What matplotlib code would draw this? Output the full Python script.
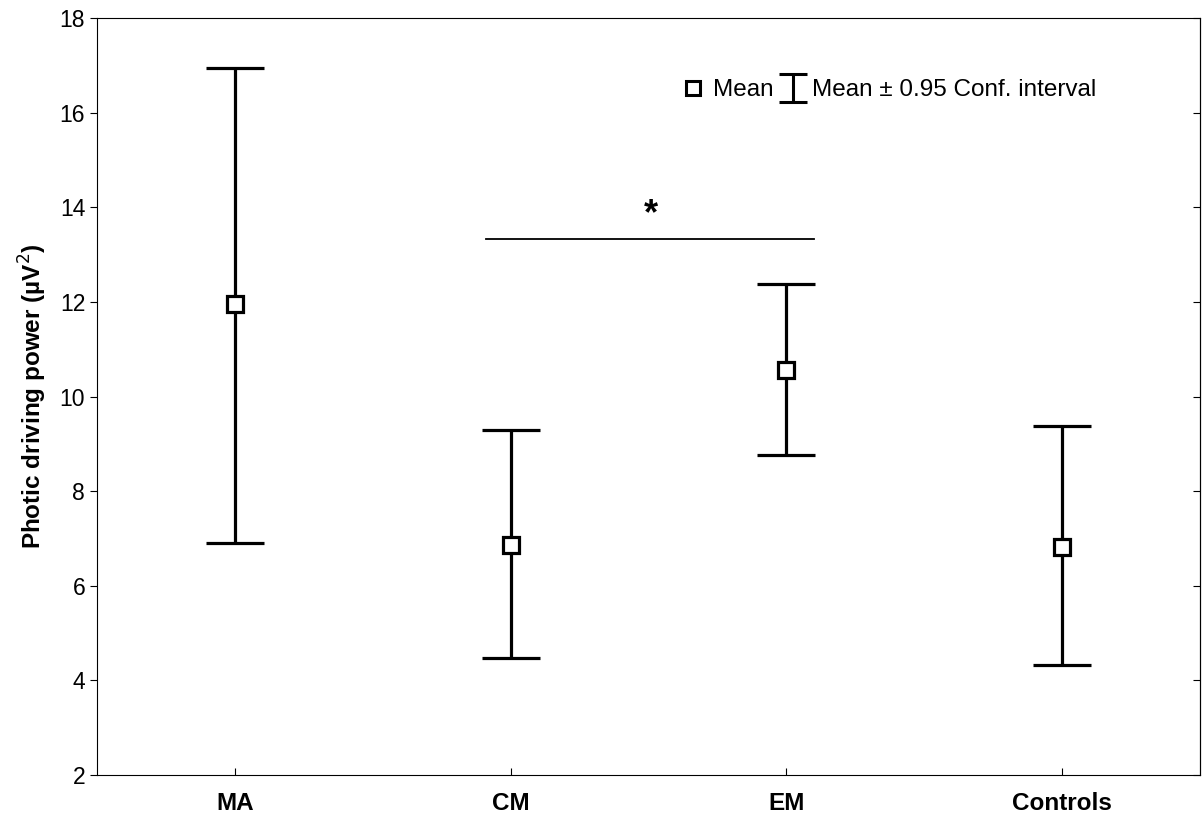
import matplotlib
matplotlib.use("Agg")
import matplotlib.pyplot as plt
from matplotlib.lines import Line2D
from matplotlib.path import Path

plt.rcParams['font.family'] = ['Liberation Sans', 'DejaVu Sans']

# data
groups = ["MA", "CM", "EM", "Controls"]
means = [11.95, 6.86, 10.56, 6.82]
ci_low = [6.90, 4.47, 8.76, 4.32]
ci_high = [16.94, 9.29, 12.38, 9.37]

x = list(range(len(groups)))
err_lo = [m - l for m, l in zip(means, ci_low)]
err_hi = [h - m for m, h in zip(means, ci_high)]

fig = plt.figure(figsize=(12.03, 8.24), dpi=100)
ax = fig.add_axes([0.0806, 0.0595, 0.917, 0.9185])

ax.errorbar(x, means, yerr=[err_lo, err_hi], fmt='s', color='black',
            mfc='white', mec='black', mew=2.3, markersize=11,
            elinewidth=2.3, capsize=21, capthick=2.3, zorder=3)

# significance bar between CM and EM
ax.plot([0.91, 2.10], [13.33, 13.33], color='black', lw=1.3)
ax.text(1.51, 13.85, "*", ha='center', va='center', fontsize=26, fontweight='bold')

# legend built like the Statistica one
ibeam = Path([(-1, 1), (1, 1), (0, 1), (0, -1), (-1, -1), (1, -1)],
             [Path.MOVETO, Path.LINETO, Path.MOVETO, Path.LINETO, Path.MOVETO, Path.LINETO])
handles = [Line2D([], [], ls='none', marker='s', mfc='white', mec='black', mew=2.2, markersize=10),
           Line2D([], [], ls='none', marker=ibeam, color='black', mew=2.2, markersize=20)]
ax.legend(handles, ["Mean", "Mean \u00b1 0.95 Conf. interval"], ncol=2, frameon=False,
          loc='center left', bbox_to_anchor=(0.522, 0.905), fontsize=17.5,
          handlelength=0.7, handletextpad=0.45, columnspacing=0.45, borderpad=0)

ax.set_xlim(-0.5, 3.5)
ax.set_ylim(2, 18)
ax.set_xticks(x)
ax.set_xticklabels(groups, fontsize=17.5, fontweight='bold')
ax.set_yticks(range(2, 19, 2))
ax.tick_params(axis='y', labelsize=16.5, direction='out', length=5)
ax.tick_params(axis='x', direction='in', length=5, pad=12)
ax.set_ylabel("Photic driving power (\u00b5V$^2$)", fontsize=17.5, fontweight='bold', labelpad=8)

right = ax.secondary_yaxis('right')
right.set_yticks(range(2, 19, 2))
right.tick_params(direction='in', length=5, labelright=False)

fig.savefig("out.png", dpi=100)
